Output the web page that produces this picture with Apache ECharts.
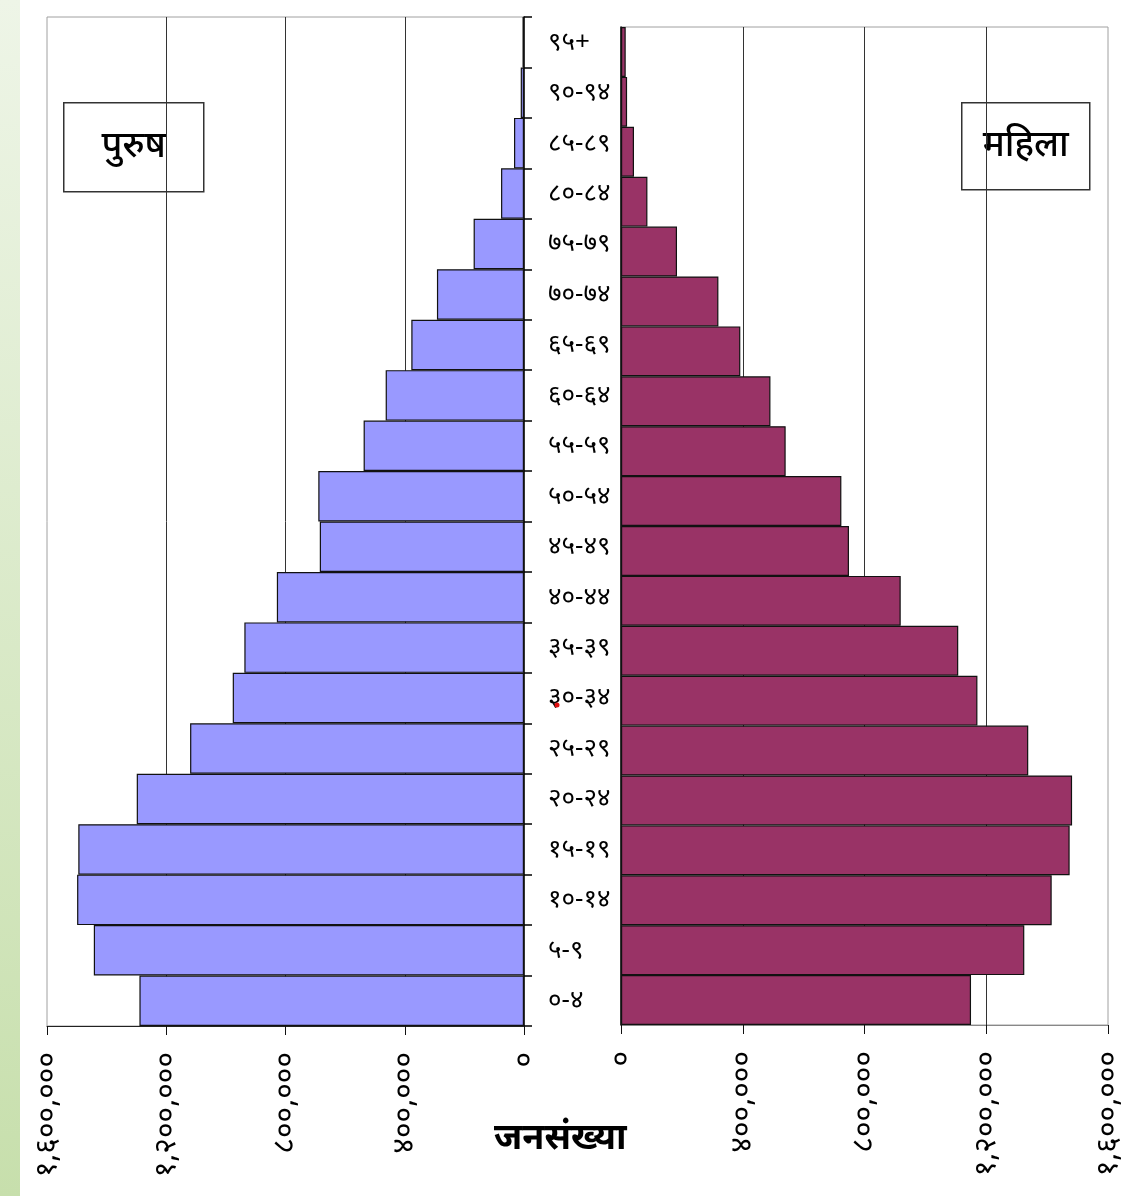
<!DOCTYPE html>
<html>
<head>
<meta charset="utf-8">
<script src="https://cdn.jsdelivr.net/npm/echarts@6/dist/echarts.min.js"></script>
<style>
html,body{margin:0;padding:0;background:#fff;}
#chart{width:1135px;height:1196px;}
</style>
</head>
<body>
<div id="chart"></div>
<script>
// Age groups (bottom to top)
const ageGroups = ['०-४','५-९','१०-१४','१५-१९','२०-२४','२५-२९','३०-३४','३५-३९','४०-४४','४५-४९','५०-५४','५५-५९','६०-६४','६५-६९','७०-७४','७५-७९','८०-८४','८५-८९','९०-९४','९५+'];
// पुरुष (male) population
const maleValues = [1290000,1443000,1499000,1495000,1299000,1120000,977000,938000,829000,685000,690000,538000,464000,378000,292000,169000,77000,33500,11000,5000];
// महिला (female) population
const femaleValues = [1150000,1325000,1415000,1474000,1482000,1338000,1171000,1108000,919000,749000,724000,541000,491000,392000,320000,184000,86800,42700,20000,15500];
// axis tick labels (0, 400k, 800k, 1.2M, 1.6M)
const tickLabels = ['०','४००,०००','८००,०००','१,२००,०००','१,६००,०००'];
const tickStep = 400000;
const axisMax = 1600000;

const FONT = '"Noto Sans", "DejaVu Sans", sans-serif';
const chart = echarts.init(document.getElementById('chart'));

function xAxisCommon(gridIndex, inverse, lineColor) {
  return {
    type: 'value', gridIndex: gridIndex, inverse: inverse,
    min: 0, max: axisMax, interval: tickStep, position: 'bottom',
    axisLine: {show: true, onZero: false, lineStyle: {color: lineColor, width: 1}},
    axisTick: {show: true, length: 9, lineStyle: {color: '#111', width: 1}},
    splitLine: {show: true, showMinLine: false, showMaxLine: false, lineStyle: {color: '#333', width: 1}},
    axisLabel: {
      rotate: 90, margin: 26, color: '#000', fontSize: 30, fontFamily: FONT,
      formatter: function (v) { return tickLabels[Math.round(v / tickStep)]; }
    }
  };
}

chart.setOption({
  animation: false,
  backgroundColor: '#fff',
  grid: [
    {left: 47, top: 17, width: 477, height: 1009, show: true, borderColor: '#a0a0a0', borderWidth: 1, backgroundColor: '#fff'},
    {left: 621, top: 27, width: 487, height: 998, show: true, borderColor: '#a0a0a0', borderWidth: 1, backgroundColor: '#fff'}
  ],
  xAxis: [
    xAxisCommon(0, true, '#222'),
    xAxisCommon(1, false, '#888')
  ],
  yAxis: [
    {
      type: 'category', gridIndex: 0, position: 'right', data: ageGroups,
      axisLine: {show: true, lineStyle: {color: '#000', width: 1.5}},
      axisTick: {show: true, length: 8, lineStyle: {color: '#000', width: 1.5}},
      axisLabel: {show: true, margin: 24, color: '#000', fontSize: 26, fontFamily: FONT, align: 'left'},
      splitLine: {show: false}
    },
    {
      type: 'category', gridIndex: 1, position: 'left', data: ageGroups,
      axisLine: {show: true, lineStyle: {color: '#000', width: 1.5}},
      axisTick: {show: false},
      axisLabel: {show: false},
      splitLine: {show: false}
    }
  ],
  series: [
    {
      name: 'पुरुष', type: 'bar', xAxisIndex: 0, yAxisIndex: 0, data: maleValues,
      barCategoryGap: '0%',
      itemStyle: {color: '#9999FF', borderColor: '#111', borderWidth: 1.2}
    },
    {
      name: 'महिला', type: 'bar', xAxisIndex: 1, yAxisIndex: 1, data: femaleValues,
      barCategoryGap: '0%',
      itemStyle: {color: '#993366', borderColor: '#111', borderWidth: 1.2}
    }
  ],
  graphic: [
    {
      type: 'rect', left: 0, top: 0, z: 0,
      shape: {width: 20, height: 1196},
      style: {fill: new echarts.graphic.LinearGradient(0, 0, 0, 1, [
        {offset: 0, color: '#eef5e7'}, {offset: 1, color: '#c7dfac'}
      ])}
    },
    {
      type: 'group', left: 63, top: 102, z: 100,
      children: [
        {type: 'rect', shape: {x: 0, y: 0, width: 140, height: 89}, style: {fill: '#fff', stroke: '#333', lineWidth: 1.5}},
        {type: 'text', x: 70, y: 44, style: {text: 'पुरुष', font: '500 36px ' + FONT, fill: '#000', align: 'center', verticalAlign: 'middle'}}
      ]
    },
    {
      type: 'group', left: 961, top: 102, z: 100,
      children: [
        {type: 'rect', shape: {x: 0, y: 0, width: 128, height: 87}, style: {fill: '#fff', stroke: '#333', lineWidth: 1.5}},
        {type: 'text', x: 64, y: 43, style: {text: 'महिला', font: '500 36px ' + FONT, fill: '#000', align: 'center', verticalAlign: 'middle'}}
      ]
    },
    {
      type: 'text', left: 494, top: 1121, z: 100,
      style: {text: 'जनसंख्या', font: 'bold 36px ' + FONT, fill: '#000'}
    },
    {
      type: 'circle', z: 100, shape: {cx: 557, cy: 705, r: 2.5}, style: {fill: '#e01010'}
    }
  ]
});
</script>
</body>
</html>
